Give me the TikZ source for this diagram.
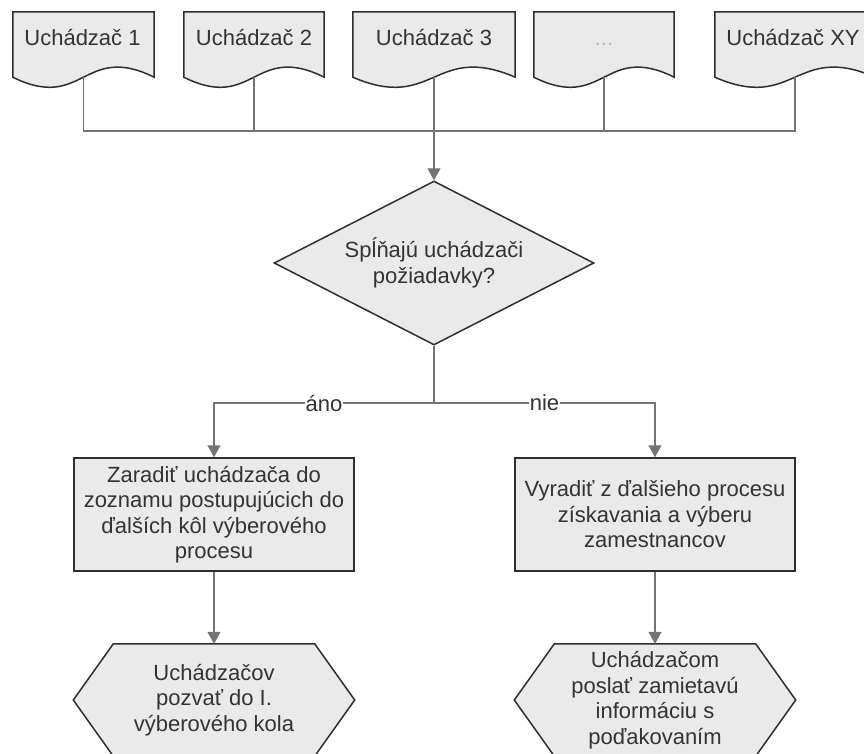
\documentclass[tikz,border=0pt]{standalone}
\usepackage{fontspec}
\setmainfont{Liberation Sans}
\usetikzlibrary{shapes.geometric,arrows.meta,calc,backgrounds}

\definecolor{shapefill}{HTML}{EAEAEA}
\definecolor{edge}{HTML}{2E2E2E}
\definecolor{wire}{HTML}{747474}
\definecolor{ink}{HTML}{333333}
\definecolor{faint}{HTML}{B5B5B5}

% document outline: flat top, wavy bottom
\newcommand\docoutline[1]{%
  \draw[outline] (#1.north west) -- (#1.north east) -- (#1.south east)
    .. controls ($(#1.south)+(0,35)$) and ($(#1.south)+(0,-35)$) .. (#1.south west) -- cycle;}
% hexagonal preparation outline
\newcommand\hexoutline[1]{%
  \draw[outline] (#1.west) -- ($(#1.north west)+(40,0)$) -- ($(#1.north east)+(-40,0)$)
    -- (#1.east) -- ($(#1.south east)+(-40,0)$) -- ($(#1.south west)+(40,0)$) -- cycle;}

\begin{document}
\begin{tikzpicture}[x=1pt,y=1pt,
  font=\fontsize{22}{25.5}\selectfont,
  outline/.style={draw=edge,fill=shapefill,line width=1.5pt,line join=miter},
  docnode/.style={minimum width=#1,minimum height=65pt,inner sep=0pt},
  doclabel/.style={text=ink,inner sep=0pt,text height=16pt,text depth=5pt},
  decision/.style={diamond,aspect=1.95,outline,minimum width=320pt,minimum height=164pt,
    inner sep=0pt,align=center,text=ink},
  process/.style={rectangle,outline,minimum width=280pt,minimum height=113pt,
    inner sep=0pt,align=center,text=ink},
  prepnode/.style={minimum width=281pt,minimum height=112pt,inner sep=0pt,
    align=center,text=ink},
  conn/.style={draw=wire,line width=1.3pt},
  arr/.style={conn,-{Triangle[width=13pt,length=12pt]}},
  branch/.style={fill=white,inner xsep=1pt,inner ysep=2pt,text=ink},
]
\clip (0,0) rectangle (864,-753);

% applicants
\node[docnode=141pt] (d1) at (83.5,-44.5) {};
\node[docnode=140pt] (d2) at (254,-44.5) {};
\node[docnode=162pt] (d3) at (434,-44.5) {};
\node[docnode=140pt] (d4) at (604,-44.5) {};
\node[docnode=160pt] (d5) at (795,-44.5) {};
\begin{pgfonlayer}{background}
  \docoutline{d1}\docoutline{d2}\docoutline{d3}\docoutline{d4}\docoutline{d5}
\end{pgfonlayer}
\node[doclabel] (d1t) at ($(d1)+(-1,5)$) {Uchádzač 1};
\node[doclabel] (d2t) at ($(d2)+(0,5)$) {Uchádzač 2};
\node[doclabel] (d3t) at ($(d3)+(0,5)$) {Uchádzač 3};
\node[doclabel,text=faint] (d4t) at ($(d4)+(0,5)$) {...};
\node[doclabel] (d5t) at ($(d5)+(-2,5)$) {Uchádzač XY};

% decision
\node[decision] (dec) at (434,-263) {Spĺňajú uchádzači\\požiadavky?};

% outcomes
\node[process] (yes) at (214,-514.5) {Zaradiť uchádzača do\\zoznamu postupujúcich do\\ďalších kôl výberového\\procesu};
\node[process] (no) at (655,-514.5) {Vyradiť z ďalšieho procesu\\získavania a výberu\\zamestnancov};

\node[prepnode] (invite) at (214,-700) {Uchádzačov\\pozvať do I.\\výberového kola};
\node[prepnode] (reject) at (655,-700) {Uchádzačom\\poslať zamietavú\\informáciu s\\poďakovaním};
\begin{pgfonlayer}{background}
  \hexoutline{invite}\hexoutline{reject}
\end{pgfonlayer}

% connectors
\coordinate (bus) at (434,-131);
\coordinate (split) at (434,-403);
\draw[conn] (d1.south) |- (bus);
\draw[conn] (d2.south) |- (bus);
\draw[conn] (d3.south) -- (bus);
\draw[conn] (d4.south) |- (bus);
\draw[conn] (d5.south) |- (bus);
\draw[arr] (bus) -- (dec.north);
\draw[conn] (dec.south) -- (split);
\draw[arr] (split) -| node[branch,pos=0.25] (lyes) {áno} (yes.north);
\draw[arr] (split) -| node[branch,pos=0.25] (lno) {nie} (no.north);
\draw[arr] (yes.south) -- (invite.north);
\draw[arr] (no.south) -- (reject.north);
\end{tikzpicture}
\end{document}
